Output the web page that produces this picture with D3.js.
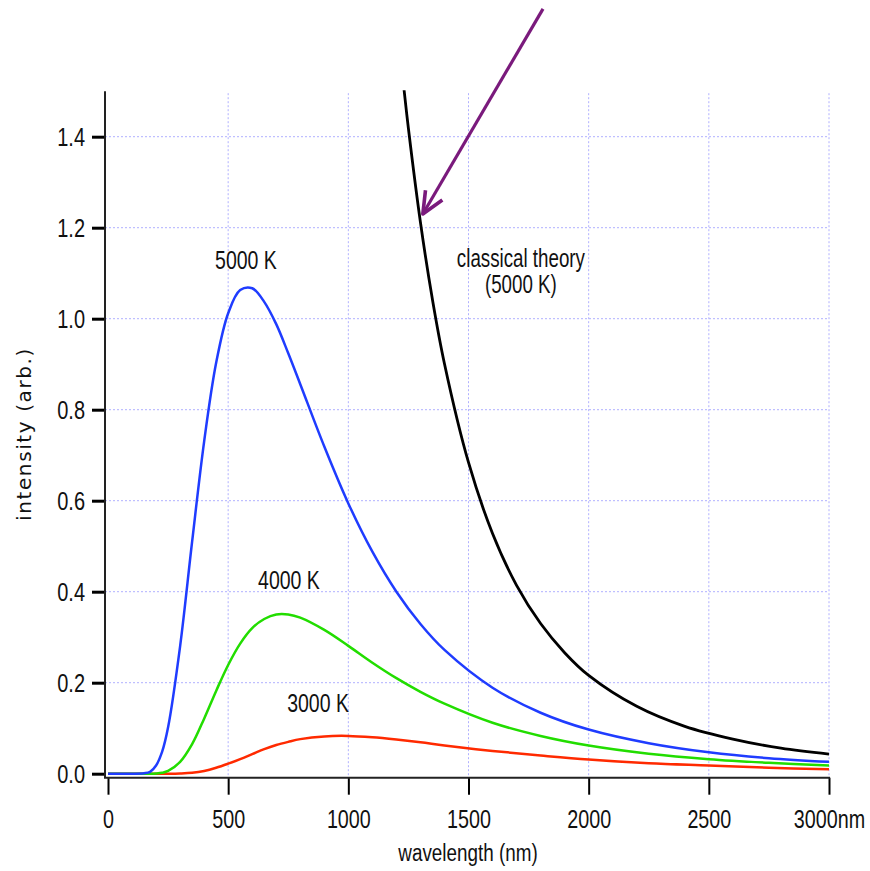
<!DOCTYPE html>
<html>
<head>
<meta charset="utf-8">
<script src="https://cdn.jsdelivr.net/npm/d3@7"></script>
<style>
  body { margin: 0; background: #fff; }
  text { font-family: "Liberation Sans", Arial, sans-serif; fill: #111; }
</style>
</head>
<body>
<script>
// wavelengths (nm) the curves were read at
const wavelengths = [0,100,150,175,200,225,250,300,350,400,450,500,550,600,650,700,750,800,900,1000,1100,1200,1300,1400,1600,1800,2000,2250,2500,2750,3000]

const k5000 = [0,0,0.001,0.004,0.018,0.048,0.102,0.280,0.510,0.730,0.903,1.012,1.063,1.067,1.037,0.988,0.924,0.856,0.719,0.594,0.488,0.400,0.329,0.272,0.189,0.134,0.097,0.067,0.047,0.034,0.026]
const k4000 = [0,0,0,0,0.0005,0.002,0.006,0.026,0.065,0.121,0.182,0.239,0.286,0.320,0.340,0.350,0.350,0.343,0.316,0.281,0.244,0.210,0.180,0.154,0.112,0.083,0.062,0.044,0.032,0.024,0.018]
const k3000 = [0,0,0,0,0,0,0,0.0005,0.002,0.006,0.013,0.022,0.032,0.043,0.054,0.063,0.070,0.076,0.082,0.083,0.080,0.075,0.069,0.062,0.050,0.040,0.031,0.023,0.018,0.013,0.010]

const classicalWl = [1230,1250,1300,1350,1400,1500,1600,1700,1800,1900,2000,2200,2400,2600,2800,3000]
const classical = [1.512,1.418,1.212,1.042,0.901,0.684,0.528,0.414,0.330,0.266,0.216,0.148,0.104,0.076,0.056,0.043]

const xTicks = [0,500,1000,1500,2000,2500,3000]
const yTicks = [0,0.2,0.4,0.6,0.8,1.0,1.2,1.4]

const series = [
  {name:"3000 K", values:k3000, color:"#ff2a00", lx:874, ly:0.135},
  {name:"4000 K", values:k4000, color:"#22dd00", lx:753, ly:0.405},
  {name:"5000 K", values:k5000, color:"#1f3cff", lx:574, ly:1.11}
]

const width = 870
const height = 871

const x = d3.scaleLinear().domain([0,3000]).range([108,829])
const y = d3.scaleLinear().domain([0,1.5]).range([773.7,91.2])

// squeeze text sideways to get the narrow look of the original font
const narrow = (sel, f) => sel.each(function() {
  const t = d3.select(this)
  const tx = +t.attr("x") || 0
  const ty = +t.attr("y") || 0
  t.attr("x", 0).attr("y", 0)
   .attr("transform", `translate(${tx},${ty}) scale(${f},1)`)
})

const svg = d3.select("body").append("svg")
  .attr("width", width)
  .attr("height", height)

const left = x.range()[0] - 3
const bottom = y.range()[0] + 4

svg.append("defs").append("clipPath").attr("id","plot")
  .append("rect")
  .attr("x", left).attr("y", y.range()[1] - 1)
  .attr("width", x.range()[1] - left + 2)
  .attr("height", bottom - y.range()[1] + 1)

// dotted grid
const grid = svg.append("g")
  .attr("stroke", "#b0b0ff")
  .attr("stroke-width", 1)
  .attr("stroke-dasharray", "2,2")

grid.selectAll(".h").data(yTicks.filter(d => d > 0)).enter()
  .append("line")
  .attr("x1", left).attr("x2", x.range()[1])
  .attr("y1", d => y(d)).attr("y2", d => y(d))

grid.selectAll(".v").data(xTicks.filter(d => d > 0)).enter()
  .append("line")
  .attr("x1", d => x(d)).attr("x2", d => x(d))
  .attr("y1", y.range()[1] + 2).attr("y2", bottom)

// curves
const line = d3.line()
  .x(d => x(d[0]))
  .y(d => y(d[1]))
  .curve(d3.curveCatmullRom.alpha(0.5))

const curves = svg.append("g").attr("clip-path", "url(#plot)")

curves.append("path")
  .datum(classicalWl.map((w,i) => [w, classical[i]]))
  .attr("d", line)
  .attr("fill", "none")
  .attr("stroke", "#000")
  .attr("stroke-width", 2.8)

curves.selectAll(".planck")
  .data(series)
  .enter()
  .append("path")
  .attr("d", s => line(wavelengths.map((w,i) => [w, s.values[i]])))
  .attr("fill", "none")
  .attr("stroke", s => s.color)
  .attr("stroke-width", 2.5)

// axes
const yAxis = svg.append("g")
  .attr("transform", `translate(${left},0)`)
  .call(d3.axisLeft(y).tickValues(yTicks).tickFormat(d3.format(".1f")).tickSize(13).tickPadding(7))

yAxis.select(".domain").remove()
yAxis.selectAll(".tick line").attr("stroke", "#000").attr("stroke-width", 3)
yAxis.selectAll(".tick text")
  .attr("font-size", 25)
  .attr("dy", "0.36em")
  .attr("font-family", null)
  .call(narrow, 0.8)

yAxis.append("line")
  .attr("x1", 0).attr("x2", 0)
  .attr("y1", y.range()[1]).attr("y2", bottom)
  .attr("stroke", "#222").attr("stroke-width", 2)

const xAxis = svg.append("g")
  .attr("transform", `translate(0,${bottom})`)
  .call(d3.axisBottom(x).tickValues(xTicks).tickSize(17)
    .tickFormat(d => d == 3000 ? d + "nm" : d))

xAxis.select(".domain").remove()
xAxis.selectAll(".tick line").attr("stroke", "#000").attr("stroke-width", 2)
xAxis.selectAll(".tick text")
  .attr("font-size", 25)
  .attr("y", 50)
  .attr("dy", 0)
  .attr("font-family", null)
  .call(narrow, 0.79)

xAxis.append("line")
  .attr("x1", left - 1).attr("x2", x.range()[1] + 1)
  .attr("y1", 0).attr("y2", 0)
  .attr("stroke", "#222").attr("stroke-width", 2)

// axis titles
svg.append("text")
  .text("wavelength (nm)")
  .attr("x", 468)
  .attr("y", 861)
  .attr("text-anchor", "middle")
  .attr("font-size", 23)
  .call(narrow, 0.82)

svg.append("text")
  .text("intensity (arb.)")
  .attr("transform", "translate(31,434) rotate(-90)")
  .attr("text-anchor", "middle")
  .attr("font-size", 20)
  .style("font-family", "'DejaVu Sans', Verdana, sans-serif")
  .style("letter-spacing", "1.6px")

// curve labels
svg.selectAll(".lbl")
  .data(series)
  .enter()
  .append("text")
  .text(s => s.name)
  .attr("x", s => x(s.lx))
  .attr("y", s => y(s.ly))
  .attr("text-anchor", "middle")
  .attr("font-size", 25)
  .call(narrow, 0.78)

svg.selectAll(".cls")
  .data(["classical theory", "(5000 K)"])
  .enter()
  .append("text")
  .text(d => d)
  .attr("x", x(1718))
  .attr("y", (d,i) => y(1.113) + i * 26)
  .attr("text-anchor", "middle")
  .attr("font-size", 25)
  .call(narrow, 0.75)

// purple arrow pointing at the classical curve
const tip = [x(1310), y(1.23)]
const tail = [x(1810), y(1.681)]
const ang = Math.atan2(tail[1] - tip[1], tail[0] - tip[0])
const arm = 24
const spread = 24 * Math.PI / 180
const armPt = a => [tip[0] + arm * Math.cos(a), tip[1] + arm * Math.sin(a)]

svg.append("path")
  .attr("d", d3.line()([tail, tip]))
  .attr("stroke", "#7a1a7c")
  .attr("stroke-width", 3.2)
  .attr("fill", "none")

svg.append("path")
  .attr("d", d3.line()([armPt(ang - spread), tip, armPt(ang + spread)]))
  .attr("stroke", "#7a1a7c")
  .attr("stroke-width", 3.6)
  .attr("stroke-linejoin", "round")
  .attr("fill", "none")
</script>
</body>
</html>
